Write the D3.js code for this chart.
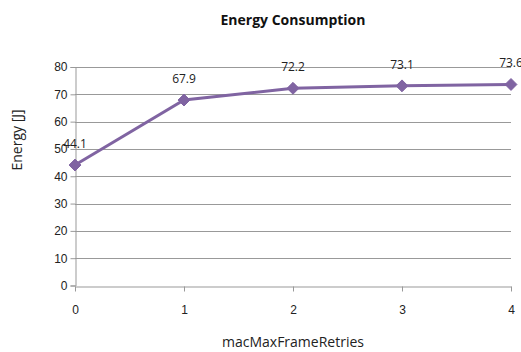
<!DOCTYPE html>
<html>
<head>
<meta charset="utf-8">
<script src="https://cdn.jsdelivr.net/npm/d3@7"></script>
<style>
  body { margin: 0; background: #fff; }
  svg { font-family: "Open Sans", "DejaVu Sans", sans-serif; }
  .tick text { fill: #222; font-size: 12px; }
</style>
</head>
<body>
<svg id="chart"></svg>
<script>
const width = 521;
const height = 352;

const categories = [0, 1, 2, 3, 4];
const energy = [44.1, 67.9, 72.2, 73.1, 73.6];
const yTicks = [0, 10, 20, 30, 40, 50, 60, 70, 80];

const margin = {top: 67, right: 10, bottom: 66, left: 75};

const svg = d3.select("#chart")
    .attr("width", width)
    .attr("height", height);

const x = d3.scaleLinear()
    .domain([0, 4])
    .range([margin.left, width - margin.right]);

const y = d3.scaleLinear()
    .domain([0, 80])
    .range([height - margin.bottom - 0.5, margin.top]);

// gridlines
svg.append("g")
    .selectAll("line")
    .data(yTicks.slice(1))
  .enter().append("line")
    .attr("x1", margin.left)
    .attr("x2", width - margin.right)
    .attr("y1", d => Math.round(y(d)) + 0.5)
    .attr("y2", d => Math.round(y(d)) + 0.5)
    .attr("stroke", "#999")
    .attr("stroke-width", 1);

// y axis
const yAxis = svg.append("g")
    .attr("transform", `translate(${margin.left + 0.5},0)`)
    .call(d3.axisLeft(y).tickValues(yTicks).tickSize(5).tickPadding(3));
yAxis.selectAll("line, path").attr("stroke", "#999");

// x axis
const xAxis = svg.append("g")
    .attr("transform", `translate(0,${Math.round(y(0)) + 0.5})`)
    .call(d3.axisBottom(x).tickValues(categories).tickFormat(d3.format("d")).tickSize(5).tickPadding(14).tickSizeOuter(0));
xAxis.selectAll("line, path").attr("stroke", "#999");

// line
const line = d3.line()
    .x((d, i) => x(categories[i]))
    .y(d => y(d));

svg.append("path")
    .datum(energy)
    .attr("fill", "none")
    .attr("stroke", "#8064a2")
    .attr("stroke-width", 3)
    .attr("d", line);

// diamond markers
svg.append("g")
    .selectAll("path")
    .data(energy)
  .enter().append("path")
    .attr("transform", (d, i) => `translate(${x(categories[i])},${y(d)})`)
    .attr("d", d3.symbol().type(d3.symbolDiamond2).size(90))
    .attr("fill", "#8064a2")
    .attr("stroke", "#8064a2")
    .attr("stroke-width", 1);

// data labels
svg.append("g")
    .selectAll("text")
    .data(energy)
  .enter().append("text")
    .attr("x", (d, i) => x(categories[i]))
    .attr("y", d => y(d) - 17)
    .attr("text-anchor", "middle")
    .attr("font-size", 12)
    .attr("fill", "#222")
    .text(d => d.toFixed(1));

// title
svg.append("text")
    .attr("x", 293)
    .attr("y", 25)
    .attr("text-anchor", "middle")
    .attr("font-size", 14)
    .attr("font-weight", "bold")
    .attr("fill", "#111")
    .text("Energy Consumption");

// axis titles
svg.append("text")
    .attr("x", 293)
    .attr("y", 347)
    .attr("text-anchor", "middle")
    .attr("font-size", 14)
    .attr("fill", "#222")
    .text("macMaxFrameRetries");

svg.append("text")
    .attr("transform", "translate(22,140) rotate(-90)")
    .attr("text-anchor", "middle")
    .attr("font-size", 14)
    .attr("fill", "#222")
    .text("Energy [J]");
</script>
</body>
</html>
